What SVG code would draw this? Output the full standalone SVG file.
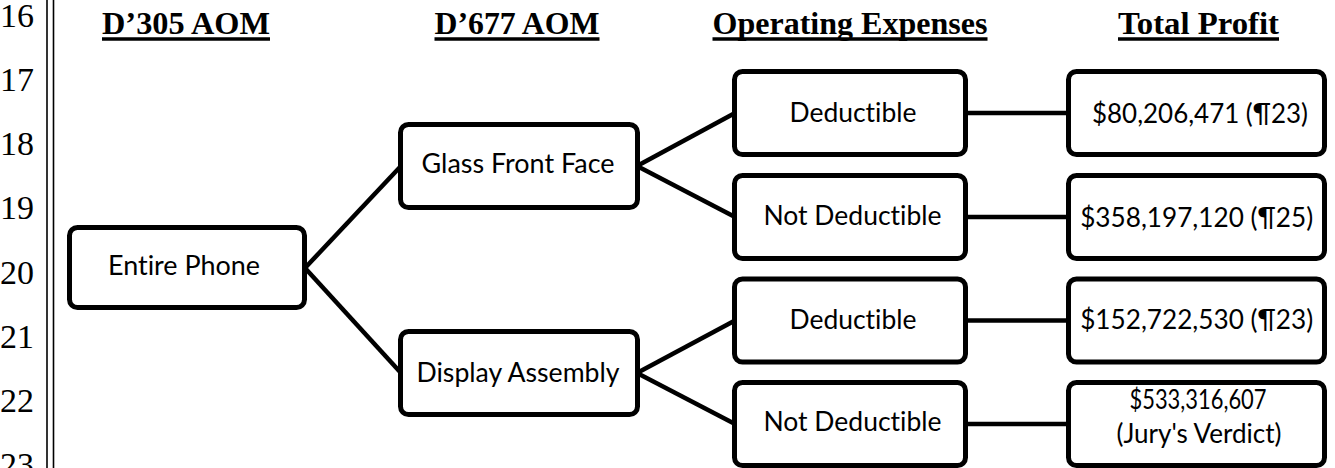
<svg xmlns="http://www.w3.org/2000/svg" width="1335" height="468" viewBox="0 0 1335 468">
  <style>
    .ln { font-family: "Liberation Serif", "Times New Roman", serif; font-size: 34px; fill: #000; }
    .hd { font-family: "Liberation Serif", "Times New Roman", serif; font-size: 31px; font-weight: bold; fill: #000; text-anchor: middle; }
    .ul { stroke: #000; stroke-width: 3.4; }
    .box { fill: #fff; stroke: #000; stroke-width: 5; }
    .lbl { font-family: Lato, "Open Sans", sans-serif; font-size: 26px; fill: #000; text-anchor: middle; font-variant-ligatures: none; }
    .conn { stroke: #000; stroke-width: 4.5; fill: none; stroke-linecap: butt; }
  </style>
  <rect width="1335" height="468" fill="#fff"/>

  <!-- line numbering and margin rule -->
  <g id="margin">
    <text class="ln" x="0" y="26.7">16</text>
    <text class="ln" x="0" y="90.9">17</text>
    <text class="ln" x="0" y="155.1">18</text>
    <text class="ln" x="0" y="219.3">19</text>
    <text class="ln" x="0" y="283.5">20</text>
    <text class="ln" x="0" y="347.7">21</text>
    <text class="ln" x="0" y="411.9">22</text>
    <text class="ln" x="0" y="476.1">23</text>
    <line x1="47" y1="0" x2="47" y2="468" stroke="#000" stroke-width="1.6"/>
    <line x1="53.5" y1="0" x2="53.5" y2="468" stroke="#000" stroke-width="1.6"/>
  </g>

  <!-- column headings -->
  <g id="headings">
    <text class="hd" x="186" y="34" textLength="168" lengthAdjust="spacingAndGlyphs">D’305 AOM</text>
    <line class="ul" x1="102" y1="39" x2="270" y2="39"/>
    <text class="hd" x="517" y="34" textLength="165" lengthAdjust="spacingAndGlyphs">D’677 AOM</text>
    <line class="ul" x1="434.5" y1="39" x2="599.5" y2="39"/>
    <text class="hd" x="850" y="34" textLength="275" lengthAdjust="spacingAndGlyphs">Operating Expenses</text>
    <line class="ul" x1="712.5" y1="39" x2="987.5" y2="39"/>
    <text class="hd" x="1198.5" y="34" textLength="161" lengthAdjust="spacingAndGlyphs">Total Profit</text>
    <line class="ul" x1="1118" y1="39" x2="1279" y2="39"/>
  </g>

  <!-- connectors -->
  <g id="connectors">
    <line class="conn" x1="305" y1="268" x2="401" y2="166"/>
    <line class="conn" x1="305" y1="268" x2="401" y2="373"/>
    <line class="conn" x1="637" y1="166" x2="735" y2="113"/>
    <line class="conn" x1="637" y1="166" x2="735" y2="217"/>
    <line class="conn" x1="637" y1="373" x2="735" y2="320.5"/>
    <line class="conn" x1="637" y1="373" x2="735" y2="424"/>
    <line class="conn" x1="966" y1="113" x2="1069" y2="113"/>
    <line class="conn" x1="966" y1="217" x2="1069" y2="217"/>
    <line class="conn" x1="966" y1="320.5" x2="1069" y2="320.5"/>
    <line class="conn" x1="966" y1="424" x2="1069" y2="424"/>
  </g>

  <g id="entire-phone">
    <rect class="box" x="69.5" y="227.5" width="235" height="80" rx="8"/>
    <text class="lbl" x="184" y="275" textLength="152" lengthAdjust="spacingAndGlyphs">Entire Phone</text>
  </g>

  <g id="glass-front-face">
    <rect class="box" x="400.5" y="124.5" width="237" height="83" rx="8"/>
    <text class="lbl" x="518" y="173.3" textLength="193" lengthAdjust="spacingAndGlyphs">Glass Front Face</text>
  </g>

  <g id="display-assembly">
    <rect class="box" x="400.5" y="331.5" width="237" height="83" rx="8"/>
    <text class="lbl" x="518" y="381.7" textLength="203" lengthAdjust="spacingAndGlyphs">Display Assembly</text>
  </g>

  <g id="glass-deductible">
    <rect class="box" x="734.5" y="71.5" width="231" height="83" rx="8"/>
    <text class="lbl" x="853" y="121.7" textLength="127" lengthAdjust="spacingAndGlyphs">Deductible</text>
  </g>

  <g id="glass-not-deductible">
    <rect class="box" x="734.5" y="175.5" width="231" height="83" rx="8"/>
    <text class="lbl" x="852.5" y="225" textLength="178" lengthAdjust="spacingAndGlyphs">Not Deductible</text>
  </g>

  <g id="display-deductible">
    <rect class="box" x="734.5" y="279" width="231" height="83" rx="8"/>
    <text class="lbl" x="853" y="329.3" textLength="127" lengthAdjust="spacingAndGlyphs">Deductible</text>
  </g>

  <g id="display-not-deductible">
    <rect class="box" x="734.5" y="382.5" width="231" height="83" rx="8"/>
    <text class="lbl" x="852.5" y="431" textLength="178" lengthAdjust="spacingAndGlyphs">Not Deductible</text>
  </g>

  <g id="profit-glass-deductible">
    <rect class="box" x="1068.5" y="71.5" width="256" height="83" rx="8"/>
    <text class="lbl" x="1200" y="122.7" textLength="216" lengthAdjust="spacingAndGlyphs">$80,206,471 (¶23)</text>
  </g>

  <g id="profit-glass-not-deductible">
    <rect class="box" x="1068.5" y="175.5" width="256" height="83" rx="8"/>
    <text class="lbl" x="1196.7" y="226.7" textLength="233" lengthAdjust="spacingAndGlyphs">$358,197,120 (¶25)</text>
  </g>

  <g id="profit-display-deductible">
    <rect class="box" x="1068.5" y="279" width="256" height="83" rx="8"/>
    <text class="lbl" x="1196.7" y="329.3" textLength="233" lengthAdjust="spacingAndGlyphs">$152,722,530 (¶23)</text>
  </g>

  <g id="profit-display-not-deductible">
    <rect class="box" x="1068.5" y="382.5" width="256" height="83" rx="8"/>
    <text class="lbl" x="1198" y="409.3" textLength="137" lengthAdjust="spacingAndGlyphs">$533,316,607</text>
    <text class="lbl" x="1199" y="442.7" textLength="165" lengthAdjust="spacingAndGlyphs">(Jury's Verdict)</text>
  </g>
</svg>
